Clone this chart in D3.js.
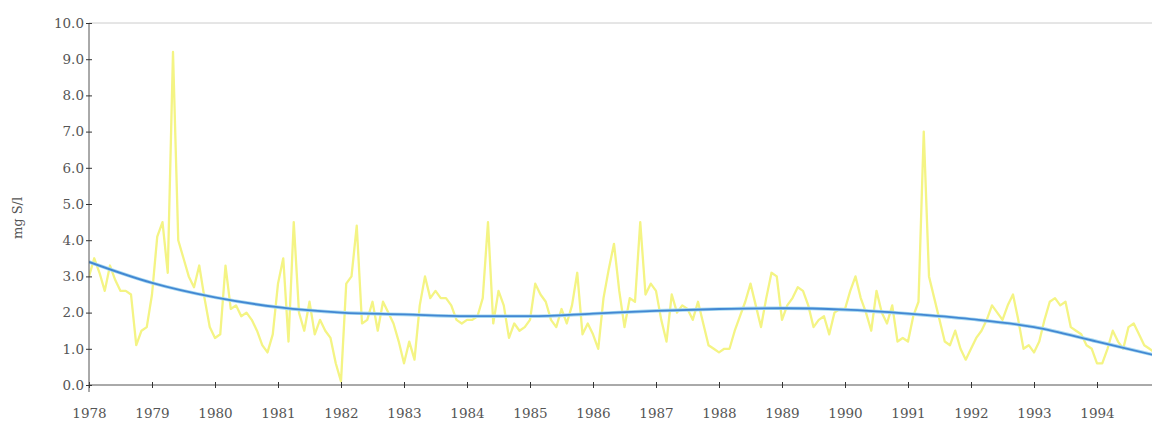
<!DOCTYPE html>
<html>
<head>
<meta charset="utf-8">
<script src="https://cdn.jsdelivr.net/npm/d3@7"></script>
<style>
  body { margin: 0; background: #fff; }
  svg { display: block; }
</style>
</head>
<body>
<div id="container"></div>
<script>
// monthly sulphate, mg S/l, Jan..Dec per year
var years = [1978, 1979, 1980, 1981, 1982, 1983, 1984, 1985, 1986, 1987, 1988, 1989, 1990, 1991, 1992, 1993, 1994];
var monthly = [
  [3.0, 3.5, 3.1, 2.6, 3.3, 2.9, 2.6, 2.6, 2.5, 1.1, 1.5, 1.6],
  [2.5, 4.1, 4.5, 3.1, 9.2, 4.0, 3.5, 3.0, 2.7, 3.3, 2.4, 1.6],
  [1.3, 1.4, 3.3, 2.1, 2.2, 1.9, 2.0, 1.8, 1.5, 1.1, 0.9, 1.4],
  [2.8, 3.5, 1.2, 4.5, 2.0, 1.5, 2.3, 1.4, 1.8, 1.5, 1.3, 0.6],
  [0.1, 2.8, 3.0, 4.4, 1.7, 1.8, 2.3, 1.5, 2.3, 2.0, 1.7, 1.2],
  [0.6, 1.2, 0.7, 2.2, 3.0, 2.4, 2.6, 2.4, 2.4, 2.2, 1.8, 1.7],
  [1.8, 1.8, 1.9, 2.4, 4.5, 1.7, 2.6, 2.2, 1.3, 1.7, 1.5, 1.6],
  [1.8, 2.8, 2.5, 2.3, 1.8, 1.6, 2.1, 1.7, 2.2, 3.1, 1.4, 1.7],
  [1.4, 1.0, 2.4, 3.2, 3.9, 2.6, 1.6, 2.4, 2.3, 4.5, 2.5, 2.8],
  [2.6, 1.8, 1.2, 2.5, 2.0, 2.2, 2.1, 1.8, 2.3, 1.7, 1.1, 1.0],
  [0.9, 1.0, 1.0, 1.5, 1.9, 2.3, 2.8, 2.2, 1.6, 2.4, 3.1, 3.0],
  [1.8, 2.2, 2.4, 2.7, 2.6, 2.2, 1.6, 1.8, 1.9, 1.4, 2.0, 2.1],
  [2.1, 2.6, 3.0, 2.4, 2.0, 1.5, 2.6, 2.0, 1.7, 2.2, 1.2, 1.3],
  [1.2, 1.9, 2.3, 7.0, 3.0, 2.4, 1.8, 1.2, 1.1, 1.5, 1.0, 0.7],
  [1.0, 1.3, 1.5, 1.8, 2.2, 2.0, 1.8, 2.2, 2.5, 1.8, 1.0, 1.1],
  [0.9, 1.2, 1.8, 2.3, 2.4, 2.2, 2.3, 1.6, 1.5, 1.4, 1.1, 1.0],
  [0.6, 0.6, 1.0, 1.5, 1.2, 1.0, 1.6, 1.7, 1.4, 1.1, 1.0, 0.9]
];
// smoothed trend
var trendX = [1978, 1979, 1980, 1981, 1982, 1983, 1984, 1985, 1986, 1987, 1988, 1989, 1990, 1991, 1992, 1993, 1994, 1994.9];
var trendY = [3.4, 2.82, 2.42, 2.15, 2.0, 1.95, 1.9, 1.9, 1.97, 2.05, 2.1, 2.12, 2.08, 1.97, 1.82, 1.6, 1.2, 0.83];
var yTicks = [0, 1, 2, 3, 4, 5, 6, 7, 8, 9, 10];

var W = 1152, H = 423;
var svg = d3.select("div#container").append("svg").attr("width", W).attr("height", H);

var x = d3.scaleLinear().domain([1978, 1995]).range([89, 1160]);
var y = d3.scaleLinear().domain([0, 10]).range([385, 23]);

var font = "'DejaVu Serif', serif";
var axisColor = "#555";

// monthly points
var pts = [];
years.forEach(function(yr, i) {
  monthly[i].forEach(function(v, m) { pts.push([yr + m / 12, v]); });
});

svg.append("defs").append("clipPath").attr("id", "clip")
  .append("rect").attr("x", 89).attr("y", 0).attr("width", W - 89).attr("height", H);

// top frame line
svg.append("line")
  .attr("x1", x(1978)).attr("x2", W)
  .attr("y1", y(10)).attr("y2", y(10))
  .attr("stroke", "#ccc").attr("stroke-width", 1);

var line = d3.line()
  .x(function(d) { return x(d[0]); })
  .y(function(d) { return y(d[1]); });

svg.append("path")
  .datum(pts)
  .attr("clip-path", "url(#clip)")
  .attr("fill", "none")
  .attr("stroke", "#f4f484")
  .attr("stroke-width", 2.3)
  .attr("stroke-linejoin", "round")
  .attr("d", line);

var trend = d3.line()
  .curve(d3.curveMonotoneX)
  .x(function(d) { return x(d[0]); })
  .y(function(d) { return y(d[1]); });

var trendPts = trendX.map(function(t, i) { return [t, trendY[i]]; });

svg.append("path")
  .datum(trendPts)
  .attr("clip-path", "url(#clip)")
  .attr("fill", "none")
  .attr("stroke", "#a6d8f0")
  .attr("stroke-width", 3.5)
  .attr("d", trend);
svg.append("path")
  .datum(trendPts)
  .attr("clip-path", "url(#clip)")
  .attr("fill", "none")
  .attr("stroke", "#4287d3")
  .attr("stroke-width", 1.8)
  .attr("d", trend);

// x axis
var gx = svg.append("g")
  .attr("transform", "translate(0," + y(0) + ")")
  .call(d3.axisBottom(x).tickValues(years).tickFormat(d3.format("d")).tickSize(0));
gx.select(".domain").attr("stroke", axisColor).attr("d", "M" + x(1978) + ",0H" + W);
gx.selectAll(".tick line").attr("y1", -3).attr("y2", 3).attr("stroke", "#333");
gx.selectAll(".tick text")
  .attr("y", 23).attr("dy", "0.71em")
  .attr("fill", axisColor)
  .style("font-family", font).style("font-size", "13.5px");

// y axis
var gy = svg.append("g")
  .attr("transform", "translate(" + x(1978) + ",0)")
  .call(d3.axisLeft(y).tickValues(yTicks).tickFormat(d3.format(".1f")).tickSize(0));
gy.select(".domain").attr("stroke", axisColor).attr("d", "M0," + y(10) + "V" + (y(0) + 7));
gy.selectAll(".tick line").attr("x1", -3).attr("x2", 3).attr("stroke", "#333");
gy.selectAll(".tick text")
  .attr("x", -5)
  .attr("fill", axisColor)
  .style("font-family", font).style("font-size", "13.5px");

// y axis title
svg.append("text")
  .attr("transform", "translate(22,218) rotate(-90)")
  .attr("text-anchor", "middle")
  .attr("fill", axisColor)
  .style("font-family", font).style("font-size", "13px")
  .text("mg S/l");
</script>
</body>
</html>
